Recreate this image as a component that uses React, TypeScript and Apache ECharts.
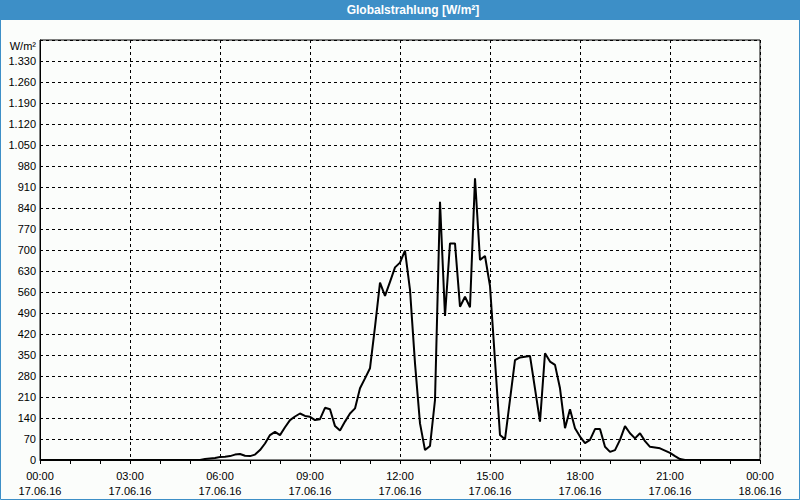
import React, { useEffect, useRef } from "react";
import * as echarts from "echarts";

// Minutes after midnight (17.06.16) and global radiation in W/m²
const TIMES_MIN: number[] = [
  0, 320, 330, 340, 350, 360, 370, 380, 390, 400, 410, 420, 430, 440, 450, 460, 470, 480, 490, 500,
  510, 520, 530, 540, 550, 560, 570, 580, 590, 600, 610, 620, 630, 640, 650, 660, 670, 680, 690, 700,
  710, 720, 730, 740, 750, 760, 770, 780, 790, 800, 810, 820, 830, 840, 850, 860, 870, 880, 890, 900,
  920, 930, 950, 960, 980, 1000, 1010, 1020, 1030, 1040, 1050, 1060, 1070, 1080, 1090, 1100, 1110, 1120,
  1130, 1140, 1150, 1160, 1170, 1180, 1190, 1200, 1210, 1220, 1240, 1260, 1270, 1280, 1290, 1440,
];
const VALUES: number[] = [
  0, 0, 3, 5, 7, 10, 11, 13, 18, 20, 14, 13, 18, 33, 55, 83, 94, 83, 109, 133,
  145, 155, 147, 144, 133, 136, 174, 169, 113, 98, 128, 155, 172, 239, 272, 306, 444, 591, 547, 594,
  642, 658, 698, 567, 322, 122, 33, 47, 200, 861, 480, 722, 722, 511, 544, 509, 939, 667, 680, 580,
  83, 69, 333, 342, 347, 128, 356, 328, 317, 239, 106, 169, 106, 78, 56, 67, 103, 103,
  44, 27, 33, 67, 113, 89, 72, 89, 63, 44, 39, 24, 13, 3, 0, 0,
];

const TICK_TIMES: string[] = ["00:00", "03:00", "06:00", "09:00", "12:00", "15:00", "18:00", "21:00", "00:00"];
const TICK_DATES: string[] = ["17.06.16", "17.06.16", "17.06.16", "17.06.16", "17.06.16", "17.06.16", "17.06.16", "17.06.16", "18.06.16"];

const TITLE = "Globalstrahlung [W/m²]";
const UNIT = "W/m²";

const FONT = "Liberation Sans";

function fmtNum(v: number): string {
  const s = String(Math.round(v));
  return s.replace(/\B(?=(\d{3})+(?!\d))/g, ".");
}

export default function App() {
  const ref = useRef<HTMLDivElement>(null);

  useEffect(() => {
    document.body.style.margin = "0";
    if (!ref.current) return;
    const chart = echarts.init(ref.current, undefined, { renderer: "svg" });
    const data = TIMES_MIN.map((t, i) => [t, VALUES[i]]);
    chart.setOption({
      animation: false,
      backgroundColor: "#fbfdfb",
      textStyle: { fontFamily: FONT },
      graphic: [
        {
          type: "rect",
          shape: { x: 0, y: 0, width: 800, height: 20 },
          style: { fill: "#3d8fc7" },
          silent: true,
        },
        {
          type: "rect",
          shape: { x: 0.5, y: 0.5, width: 799, height: 499 },
          style: { fill: "none", stroke: "#3d8fc7", lineWidth: 1 },
          silent: true,
        },
        {
          type: "text",
          x: 413,
          y: 10,
          style: {
            text: TITLE,
            fill: "#ffffff",
            font: `bold 12px "${FONT}"`,
            align: "center",
            verticalAlign: "middle",
          },
          silent: true,
        },
      ],
      grid: {
        left: 40,
        right: 40,
        top: 40,
        bottom: 40,
        show: true,
        borderColor: "#000",
        borderWidth: 1,
        backgroundColor: "transparent",
      },
      xAxis: {
        type: "value",
        min: 0,
        max: 1440,
        interval: 180,
        axisLine: { show: true, lineStyle: { color: "#000", width: 1 } },
        axisTick: { show: true, length: 4, lineStyle: { color: "#000" } },
        minorTick: { show: true, splitNumber: 3, length: 4, lineStyle: { color: "#000" } },
        splitLine: { show: true, lineStyle: { color: "#000", type: [3, 3], width: 1 } },
        axisLabel: {
          color: "#000",
          fontSize: 11,
          fontFamily: FONT,
          lineHeight: 15,
          margin: 8,
          formatter: (_v: number, idx: number) => `${TICK_TIMES[idx] ?? ""}\n${TICK_DATES[idx] ?? ""}`,
        },
      },
      yAxis: {
        type: "value",
        min: 0,
        max: 1400,
        interval: 70,
        name: UNIT,
        nameLocation: "end",
        nameGap: -6,
        nameTextStyle: {
          color: "#000",
          fontSize: 11,
          fontFamily: FONT,
          align: "right",
          verticalAlign: "middle",
          padding: [0, 4, 0, 0],
        },
        axisLine: { show: true, lineStyle: { color: "#000", width: 1 } },
        axisTick: { show: false },
        splitLine: { show: true, lineStyle: { color: "#000", type: [3, 3], width: 1 } },
        axisLabel: {
          color: "#000",
          fontSize: 11,
          fontFamily: FONT,
          margin: 4,
          showMaxLabel: false,
          formatter: (v: number) => fmtNum(v),
        },
      },
      series: [
        {
          type: "line",
          data,
          showSymbol: false,
          symbol: "none",
          lineStyle: { color: "#000", width: 2 },
          itemStyle: { color: "#000" },
          z: 5,
        },
      ],
    });
    return () => chart.dispose();
  }, []);

  return <div ref={ref} style={{ width: 800, height: 500, position: "absolute", left: 0, top: 0 }} />;
}
